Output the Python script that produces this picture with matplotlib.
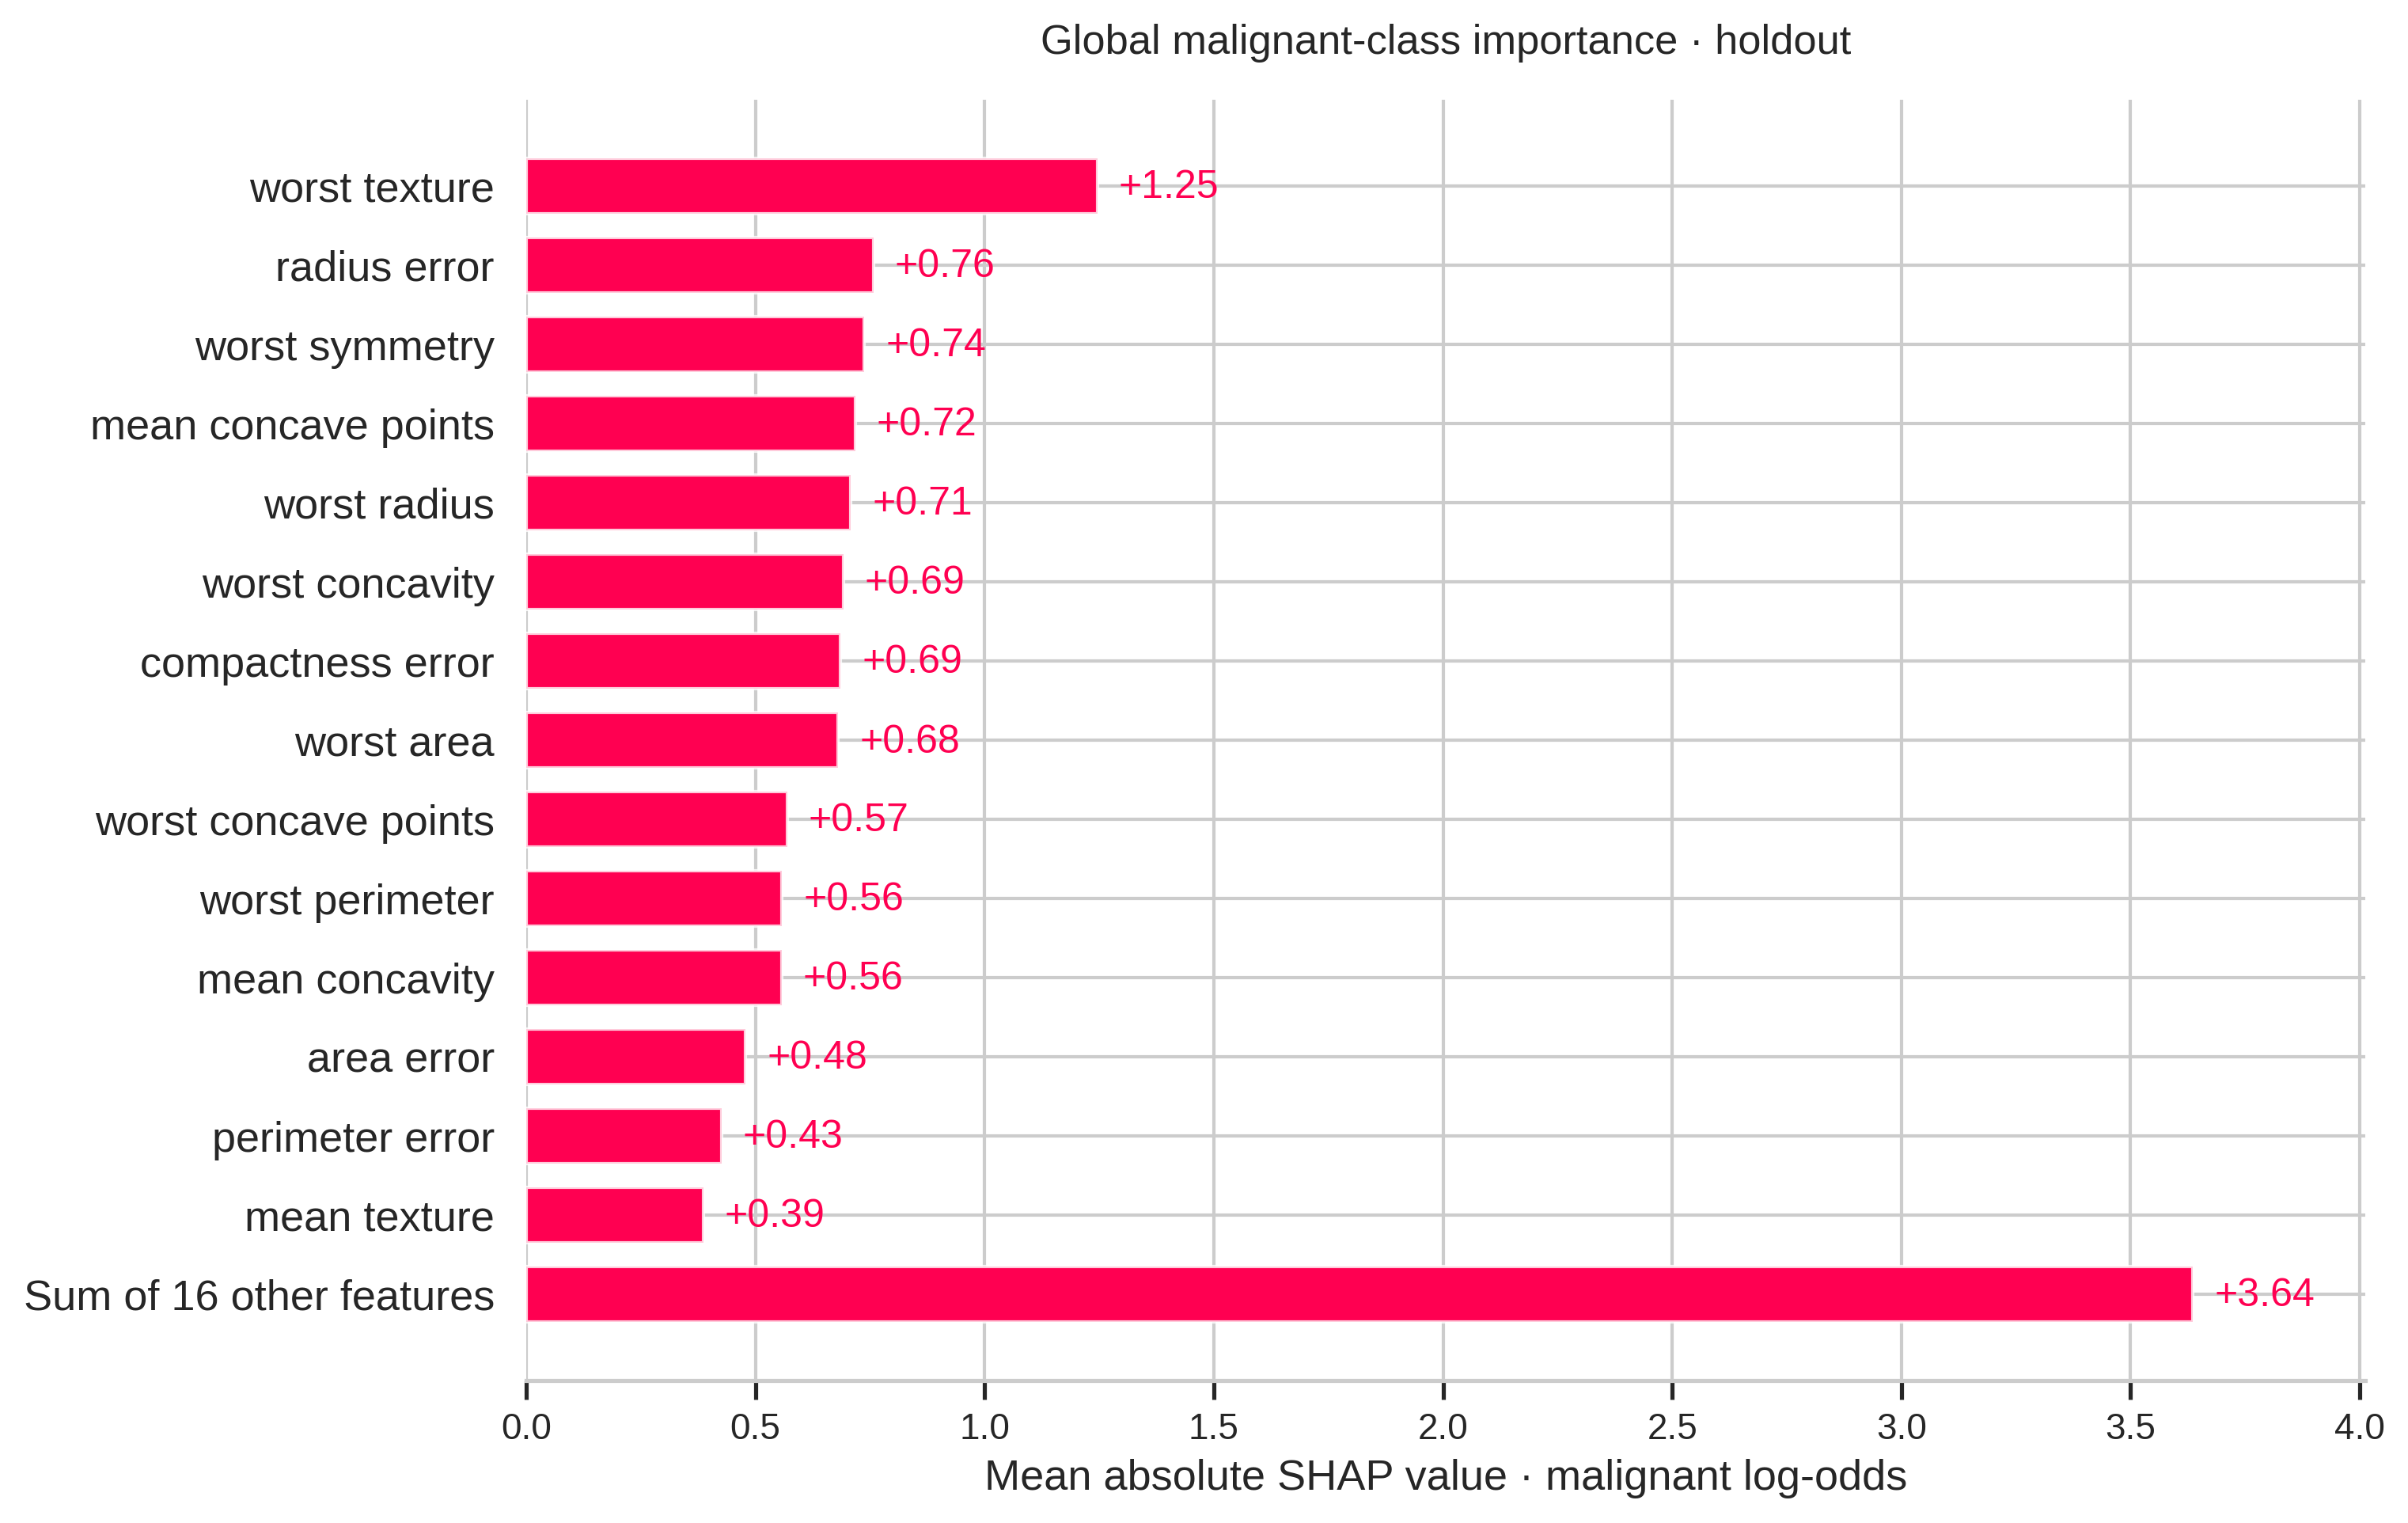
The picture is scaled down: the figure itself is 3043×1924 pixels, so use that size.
import matplotlib
matplotlib.use("Agg")
import matplotlib.pyplot as plt
import seaborn as sns
import numpy as np

features = ["worst texture", "radius error", "worst symmetry", "mean concave points",
            "worst radius", "worst concavity", "compactness error", "worst area",
            "worst concave points", "worst perimeter", "mean concavity", "area error",
            "perimeter error", "mean texture", "Sum of 16 other features"]
values = [1.246, 0.757, 0.738, 0.718, 0.708, 0.692, 0.686, 0.681,
          0.569, 0.558, 0.557, 0.479, 0.426, 0.386, 3.636]
xticks = [0.0, 0.5, 1.0, 1.5, 2.0, 2.5, 3.0, 3.5, 4.0]
title = "Global malignant-class importance · holdout"
xlabel = "Mean absolute SHAP value · malignant log-odds"

sns.set_style("whitegrid")
plt.rcParams["font.family"] = ["Liberation Sans", "DejaVu Sans"]

red = "#ff0051"
fig = plt.figure(figsize=(3043 / 300, 1924 / 300), dpi=300)
ax = fig.add_axes([665 / 3043, 1 - 1744 / 1924, (2989 - 665) / 3043, (1744 - 126) / 1924])

n = len(features)
ypos = np.arange(n, 0, -1)
ax.barh(ypos, values, 0.7, align="center", color=red,
        edgecolor=(1, 1, 1, 0.8), linewidth=1, zorder=3)
for y, v in zip(ypos, values):
    ax.annotate(f"+{v:.2f}", xy=(v, y), xytext=(6.5, -0.6), textcoords="offset points",
                ha="left", va="center", color=red, fontsize=12, zorder=4)

ax.set_yticks(ypos)
ax.set_yticklabels(features, fontsize=13, color="#262626")
ax.set_xticks(xticks)
ax.set_xticklabels([f"{t:.1f}" for t in xticks])
ax.set_xlim(0, 4.012)
ax.set_ylim(-0.09, n + 1.09)
ax.grid(True, color="#cccccc", linewidth=1)
ax.set_axisbelow(True)

for s in ["left", "top", "right"]:
    ax.spines[s].set_visible(False)
ax.spines["bottom"].set_color("#cccccc")
ax.spines["bottom"].set_linewidth(1.25)

ax.tick_params(axis="y", length=0, pad=9.6)
ax.tick_params(axis="x", bottom=True, length=5.8, width=1.25, color="#262626",
               labelsize=11, labelcolor="#262626", pad=3.8)

ax.set_xlabel(xlabel, fontsize=13, color="#262626", labelpad=3.5)
ax.set_title(title, fontsize=12.6, color="#262626", pad=14)

fig.savefig("out.png", dpi=300)
